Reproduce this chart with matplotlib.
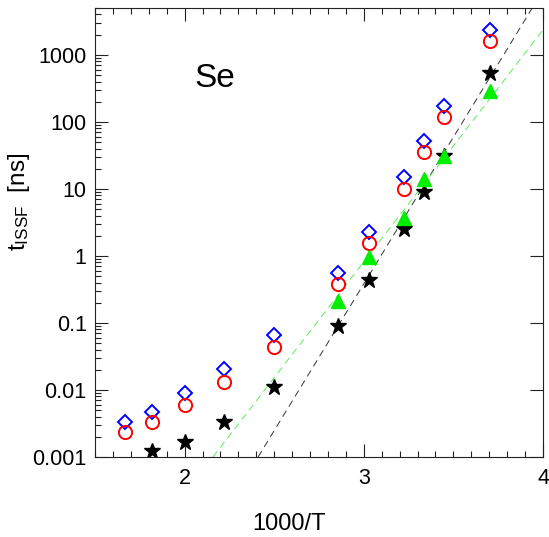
import numpy as np
import matplotlib
matplotlib.use('Agg')
import matplotlib.pyplot as plt
from matplotlib.ticker import MultipleLocator, LogLocator, FixedLocator

plt.rcParams['font.family'] = ['Liberation Sans', 'DejaVu Sans']
plt.rcParams['lines.scale_dashes'] = False

# temperatures (K) -> 1000/T
temp = np.array([600, 550, 500, 450, 400, 350, 330, 310, 300, 290, 270])
inv_t = 1000. / temp

t_diamond = [0.00336, 0.00474, 0.0089, 0.0204, 0.066, 0.55, 2.26, 15.3, 52, 175, 2360]
t_circle = [0.0024, 0.00336, 0.006, 0.0133, 0.044, 0.38, 1.58, 9.9, 35, 120, 1620]

temp_star = np.array([550, 500, 450, 400, 350, 330, 310, 300, 290, 270])
t_star = [0.00123, 0.0017, 0.00336, 0.011, 0.090, 0.43, 2.5, 9.1, 31, 533]

temp_tri = np.array([350, 330, 310, 300, 290, 270])
t_tri = [0.215, 0.97, 3.65, 14, 31, 293]

# fitted Arrhenius lines (end points)
fit_black_x = [2.41, 3.94]
fit_black_y = [0.001, 5000]
fit_green_x = [2.158, 4.0]
fit_green_y = [0.001, 2360]

ytick_vals = [0.001, 0.01, 0.1, 1, 10, 100, 1000]
ytick_labels = ['0.001', '0.01', '0.1', '1', '10', '100', '1000']


def main():
    fig = plt.figure(figsize=(5.49, 5.37), dpi=100)
    ax = fig.add_axes([95/549, 1-457/537, 448/549, 449/537])

    ax.plot(fit_black_x, fit_black_y, color='#333333', lw=0.7, dashes=(5, 3.5))
    ax.plot(fit_green_x, fit_green_y, color='#55ee55', lw=0.7, dashes=(5, 3.5))

    ax.plot(inv_t, t_diamond, 'D', ms=7.5, mfc='none', mec='#0000ff', mew=1.4, ls='none')
    ax.plot(inv_t, t_circle, 'o', ms=9.5, mfc='none', mec='#ff0000', mew=1.4, ls='none')
    ax.plot(1000./temp_star, t_star, '*', ms=12, color='black', ls='none')
    ax.plot(1000./temp_tri, t_tri, '^', ms=10.5, color='#00ee00', ls='none')

    ax.set_yscale('log')
    ax.set_xlim(1.5, 4)
    ax.set_ylim(0.001, 5000)

    ax.xaxis.set_major_locator(FixedLocator([2, 3, 4]))
    ax.xaxis.set_minor_locator(MultipleLocator(0.1))
    ax.yaxis.set_minor_locator(LogLocator(base=10, subs=np.arange(2, 10), numticks=20))
    ax.set_yticks(ytick_vals)
    ax.set_yticklabels(ytick_labels)
    ax.set_xticklabels(['2', '3', '4'])

    ax.tick_params(which='both', direction='in', top=True, right=True,
                   labelsize=15.5, width=0.8, color='#222222')
    ax.tick_params(which='major', length=9.5)
    ax.tick_params(which='minor', length=4.5, right=False)
    ax.tick_params(axis='x', pad=8)
    ax.tick_params(axis='y', pad=6)
    for s in ax.spines.values():
        s.set_linewidth(0.8)
        s.set_color('#222222')

    ax.set_xlabel('1000/T', fontsize=17)
    ax.xaxis.set_label_coords(0.432, -0.125)
    ax.set_ylabel(r'$\mathregular{t_{ISSF}}$  [ns]', fontsize=17.5)
    ax.yaxis.set_label_coords(-0.14, 0.568)

    ax.text(0.223, 0.824, 'Se', transform=ax.transAxes, fontsize=24, va='baseline')

    fig.savefig('out.png', dpi=100)


if __name__ == '__main__':
    main()
